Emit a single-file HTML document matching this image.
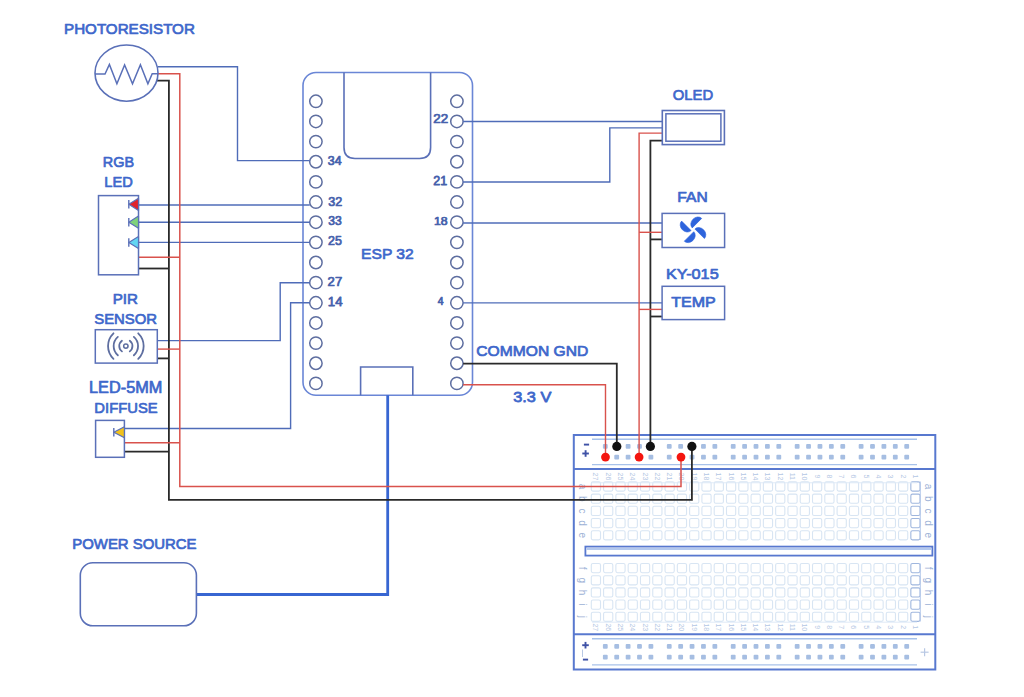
<!DOCTYPE html>
<html><head><meta charset="utf-8"><title>ESP32 wiring</title>
<style>
html,body{margin:0;padding:0;background:#fff;}
body{width:1024px;height:697px;overflow:hidden;}
svg{display:block;font-family:"Liberation Sans", sans-serif;}
</style></head>
<body>
<svg width="1024" height="697" viewBox="0 0 1024 697">
<rect x="0" y="0" width="1024" height="697" fill="#ffffff"/>
<rect x="573.8" y="435.0" width="361.5" height="234.5" fill="none" stroke="#5878cf" stroke-width="2"/>
<line x1="573.8" y1="468.9" x2="935.3" y2="468.9" stroke="#5878cf" stroke-width="2"/>
<line x1="573.8" y1="634.3" x2="935.3" y2="634.3" stroke="#5878cf" stroke-width="2"/>
<line x1="592" y1="439.2" x2="917" y2="439.2" stroke="#a8c2ea" stroke-width="1.4"/>
<line x1="592" y1="464.6" x2="917" y2="464.6" stroke="#a8c2ea" stroke-width="1.4"/>
<line x1="592" y1="638.8" x2="917" y2="638.8" stroke="#a8c2ea" stroke-width="1.4"/>
<line x1="592" y1="664.9" x2="917" y2="664.9" stroke="#a8c2ea" stroke-width="1.4"/>
<rect x="585.4" y="546.6" width="347" height="9" fill="#fff" stroke="#5878cf" stroke-width="1.8"/>
<line x1="586.5" y1="549" x2="931.4" y2="549" stroke="#b3c8ee" stroke-width="2"/>
<rect x="602.90" y="444.00" width="4.8" height="4.8" rx="1" fill="#a6bee2"/>
<rect x="614.30" y="444.00" width="4.8" height="4.8" rx="1" fill="#a6bee2"/>
<rect x="625.70" y="444.00" width="4.8" height="4.8" rx="1" fill="#a6bee2"/>
<rect x="637.10" y="444.00" width="4.8" height="4.8" rx="1" fill="#a6bee2"/>
<rect x="648.50" y="444.00" width="4.8" height="4.8" rx="1" fill="#a6bee2"/>
<rect x="666.85" y="444.00" width="4.8" height="4.8" rx="1" fill="#a6bee2"/>
<rect x="678.25" y="444.00" width="4.8" height="4.8" rx="1" fill="#a6bee2"/>
<rect x="689.65" y="444.00" width="4.8" height="4.8" rx="1" fill="#a6bee2"/>
<rect x="701.05" y="444.00" width="4.8" height="4.8" rx="1" fill="#a6bee2"/>
<rect x="712.45" y="444.00" width="4.8" height="4.8" rx="1" fill="#a6bee2"/>
<rect x="730.80" y="444.00" width="4.8" height="4.8" rx="1" fill="#a6bee2"/>
<rect x="742.20" y="444.00" width="4.8" height="4.8" rx="1" fill="#a6bee2"/>
<rect x="753.60" y="444.00" width="4.8" height="4.8" rx="1" fill="#a6bee2"/>
<rect x="765.00" y="444.00" width="4.8" height="4.8" rx="1" fill="#a6bee2"/>
<rect x="776.40" y="444.00" width="4.8" height="4.8" rx="1" fill="#a6bee2"/>
<rect x="794.75" y="444.00" width="4.8" height="4.8" rx="1" fill="#a6bee2"/>
<rect x="806.15" y="444.00" width="4.8" height="4.8" rx="1" fill="#a6bee2"/>
<rect x="817.55" y="444.00" width="4.8" height="4.8" rx="1" fill="#a6bee2"/>
<rect x="828.95" y="444.00" width="4.8" height="4.8" rx="1" fill="#a6bee2"/>
<rect x="840.35" y="444.00" width="4.8" height="4.8" rx="1" fill="#a6bee2"/>
<rect x="858.70" y="444.00" width="4.8" height="4.8" rx="1" fill="#a6bee2"/>
<rect x="870.10" y="444.00" width="4.8" height="4.8" rx="1" fill="#a6bee2"/>
<rect x="881.50" y="444.00" width="4.8" height="4.8" rx="1" fill="#a6bee2"/>
<rect x="892.90" y="444.00" width="4.8" height="4.8" rx="1" fill="#a6bee2"/>
<rect x="904.30" y="444.00" width="4.8" height="4.8" rx="1" fill="#a6bee2"/>
<rect x="602.90" y="454.70" width="4.8" height="4.8" rx="1" fill="#a6bee2"/>
<rect x="614.30" y="454.70" width="4.8" height="4.8" rx="1" fill="#a6bee2"/>
<rect x="625.70" y="454.70" width="4.8" height="4.8" rx="1" fill="#a6bee2"/>
<rect x="637.10" y="454.70" width="4.8" height="4.8" rx="1" fill="#a6bee2"/>
<rect x="648.50" y="454.70" width="4.8" height="4.8" rx="1" fill="#a6bee2"/>
<rect x="666.85" y="454.70" width="4.8" height="4.8" rx="1" fill="#a6bee2"/>
<rect x="678.25" y="454.70" width="4.8" height="4.8" rx="1" fill="#a6bee2"/>
<rect x="689.65" y="454.70" width="4.8" height="4.8" rx="1" fill="#a6bee2"/>
<rect x="701.05" y="454.70" width="4.8" height="4.8" rx="1" fill="#a6bee2"/>
<rect x="712.45" y="454.70" width="4.8" height="4.8" rx="1" fill="#a6bee2"/>
<rect x="730.80" y="454.70" width="4.8" height="4.8" rx="1" fill="#a6bee2"/>
<rect x="742.20" y="454.70" width="4.8" height="4.8" rx="1" fill="#a6bee2"/>
<rect x="753.60" y="454.70" width="4.8" height="4.8" rx="1" fill="#a6bee2"/>
<rect x="765.00" y="454.70" width="4.8" height="4.8" rx="1" fill="#a6bee2"/>
<rect x="776.40" y="454.70" width="4.8" height="4.8" rx="1" fill="#a6bee2"/>
<rect x="794.75" y="454.70" width="4.8" height="4.8" rx="1" fill="#a6bee2"/>
<rect x="806.15" y="454.70" width="4.8" height="4.8" rx="1" fill="#a6bee2"/>
<rect x="817.55" y="454.70" width="4.8" height="4.8" rx="1" fill="#a6bee2"/>
<rect x="828.95" y="454.70" width="4.8" height="4.8" rx="1" fill="#a6bee2"/>
<rect x="840.35" y="454.70" width="4.8" height="4.8" rx="1" fill="#a6bee2"/>
<rect x="858.70" y="454.70" width="4.8" height="4.8" rx="1" fill="#a6bee2"/>
<rect x="870.10" y="454.70" width="4.8" height="4.8" rx="1" fill="#a6bee2"/>
<rect x="881.50" y="454.70" width="4.8" height="4.8" rx="1" fill="#a6bee2"/>
<rect x="892.90" y="454.70" width="4.8" height="4.8" rx="1" fill="#a6bee2"/>
<rect x="904.30" y="454.70" width="4.8" height="4.8" rx="1" fill="#a6bee2"/>
<rect x="602.90" y="644.00" width="4.8" height="4.8" rx="1" fill="#a6bee2"/>
<rect x="614.30" y="644.00" width="4.8" height="4.8" rx="1" fill="#a6bee2"/>
<rect x="625.70" y="644.00" width="4.8" height="4.8" rx="1" fill="#a6bee2"/>
<rect x="637.10" y="644.00" width="4.8" height="4.8" rx="1" fill="#a6bee2"/>
<rect x="648.50" y="644.00" width="4.8" height="4.8" rx="1" fill="#a6bee2"/>
<rect x="666.85" y="644.00" width="4.8" height="4.8" rx="1" fill="#a6bee2"/>
<rect x="678.25" y="644.00" width="4.8" height="4.8" rx="1" fill="#a6bee2"/>
<rect x="689.65" y="644.00" width="4.8" height="4.8" rx="1" fill="#a6bee2"/>
<rect x="701.05" y="644.00" width="4.8" height="4.8" rx="1" fill="#a6bee2"/>
<rect x="712.45" y="644.00" width="4.8" height="4.8" rx="1" fill="#a6bee2"/>
<rect x="730.80" y="644.00" width="4.8" height="4.8" rx="1" fill="#a6bee2"/>
<rect x="742.20" y="644.00" width="4.8" height="4.8" rx="1" fill="#a6bee2"/>
<rect x="753.60" y="644.00" width="4.8" height="4.8" rx="1" fill="#a6bee2"/>
<rect x="765.00" y="644.00" width="4.8" height="4.8" rx="1" fill="#a6bee2"/>
<rect x="776.40" y="644.00" width="4.8" height="4.8" rx="1" fill="#a6bee2"/>
<rect x="794.75" y="644.00" width="4.8" height="4.8" rx="1" fill="#a6bee2"/>
<rect x="806.15" y="644.00" width="4.8" height="4.8" rx="1" fill="#a6bee2"/>
<rect x="817.55" y="644.00" width="4.8" height="4.8" rx="1" fill="#a6bee2"/>
<rect x="828.95" y="644.00" width="4.8" height="4.8" rx="1" fill="#a6bee2"/>
<rect x="840.35" y="644.00" width="4.8" height="4.8" rx="1" fill="#a6bee2"/>
<rect x="858.70" y="644.00" width="4.8" height="4.8" rx="1" fill="#a6bee2"/>
<rect x="870.10" y="644.00" width="4.8" height="4.8" rx="1" fill="#a6bee2"/>
<rect x="881.50" y="644.00" width="4.8" height="4.8" rx="1" fill="#a6bee2"/>
<rect x="892.90" y="644.00" width="4.8" height="4.8" rx="1" fill="#a6bee2"/>
<rect x="904.30" y="644.00" width="4.8" height="4.8" rx="1" fill="#a6bee2"/>
<rect x="602.90" y="654.70" width="4.8" height="4.8" rx="1" fill="#a6bee2"/>
<rect x="614.30" y="654.70" width="4.8" height="4.8" rx="1" fill="#a6bee2"/>
<rect x="625.70" y="654.70" width="4.8" height="4.8" rx="1" fill="#a6bee2"/>
<rect x="637.10" y="654.70" width="4.8" height="4.8" rx="1" fill="#a6bee2"/>
<rect x="648.50" y="654.70" width="4.8" height="4.8" rx="1" fill="#a6bee2"/>
<rect x="666.85" y="654.70" width="4.8" height="4.8" rx="1" fill="#a6bee2"/>
<rect x="678.25" y="654.70" width="4.8" height="4.8" rx="1" fill="#a6bee2"/>
<rect x="689.65" y="654.70" width="4.8" height="4.8" rx="1" fill="#a6bee2"/>
<rect x="701.05" y="654.70" width="4.8" height="4.8" rx="1" fill="#a6bee2"/>
<rect x="712.45" y="654.70" width="4.8" height="4.8" rx="1" fill="#a6bee2"/>
<rect x="730.80" y="654.70" width="4.8" height="4.8" rx="1" fill="#a6bee2"/>
<rect x="742.20" y="654.70" width="4.8" height="4.8" rx="1" fill="#a6bee2"/>
<rect x="753.60" y="654.70" width="4.8" height="4.8" rx="1" fill="#a6bee2"/>
<rect x="765.00" y="654.70" width="4.8" height="4.8" rx="1" fill="#a6bee2"/>
<rect x="776.40" y="654.70" width="4.8" height="4.8" rx="1" fill="#a6bee2"/>
<rect x="794.75" y="654.70" width="4.8" height="4.8" rx="1" fill="#a6bee2"/>
<rect x="806.15" y="654.70" width="4.8" height="4.8" rx="1" fill="#a6bee2"/>
<rect x="817.55" y="654.70" width="4.8" height="4.8" rx="1" fill="#a6bee2"/>
<rect x="828.95" y="654.70" width="4.8" height="4.8" rx="1" fill="#a6bee2"/>
<rect x="840.35" y="654.70" width="4.8" height="4.8" rx="1" fill="#a6bee2"/>
<rect x="858.70" y="654.70" width="4.8" height="4.8" rx="1" fill="#a6bee2"/>
<rect x="870.10" y="654.70" width="4.8" height="4.8" rx="1" fill="#a6bee2"/>
<rect x="881.50" y="654.70" width="4.8" height="4.8" rx="1" fill="#a6bee2"/>
<rect x="892.90" y="654.70" width="4.8" height="4.8" rx="1" fill="#a6bee2"/>
<rect x="904.30" y="654.70" width="4.8" height="4.8" rx="1" fill="#a6bee2"/>
<rect x="591.30" y="481.90" width="9.2" height="9.2" rx="1.6" fill="none" stroke="#d8e5f3" stroke-width="1.1"/>
<rect x="603.59" y="481.90" width="9.2" height="9.2" rx="1.6" fill="none" stroke="#d8e5f3" stroke-width="1.1"/>
<rect x="615.88" y="481.90" width="9.2" height="9.2" rx="1.6" fill="none" stroke="#d8e5f3" stroke-width="1.1"/>
<rect x="628.17" y="481.90" width="9.2" height="9.2" rx="1.6" fill="none" stroke="#d8e5f3" stroke-width="1.1"/>
<rect x="640.46" y="481.90" width="9.2" height="9.2" rx="1.6" fill="none" stroke="#d8e5f3" stroke-width="1.1"/>
<rect x="652.75" y="481.90" width="9.2" height="9.2" rx="1.6" fill="none" stroke="#d8e5f3" stroke-width="1.1"/>
<rect x="665.04" y="481.90" width="9.2" height="9.2" rx="1.6" fill="none" stroke="#d8e5f3" stroke-width="1.1"/>
<rect x="677.33" y="481.90" width="9.2" height="9.2" rx="1.6" fill="none" stroke="#d8e5f3" stroke-width="1.1"/>
<rect x="689.62" y="481.90" width="9.2" height="9.2" rx="1.6" fill="none" stroke="#d8e5f3" stroke-width="1.1"/>
<rect x="701.91" y="481.90" width="9.2" height="9.2" rx="1.6" fill="none" stroke="#d8e5f3" stroke-width="1.1"/>
<rect x="714.20" y="481.90" width="9.2" height="9.2" rx="1.6" fill="none" stroke="#d8e5f3" stroke-width="1.1"/>
<rect x="726.49" y="481.90" width="9.2" height="9.2" rx="1.6" fill="none" stroke="#d8e5f3" stroke-width="1.1"/>
<rect x="738.78" y="481.90" width="9.2" height="9.2" rx="1.6" fill="none" stroke="#d8e5f3" stroke-width="1.1"/>
<rect x="751.07" y="481.90" width="9.2" height="9.2" rx="1.6" fill="none" stroke="#d8e5f3" stroke-width="1.1"/>
<rect x="763.36" y="481.90" width="9.2" height="9.2" rx="1.6" fill="none" stroke="#d8e5f3" stroke-width="1.1"/>
<rect x="775.65" y="481.90" width="9.2" height="9.2" rx="1.6" fill="none" stroke="#d8e5f3" stroke-width="1.1"/>
<rect x="787.94" y="481.90" width="9.2" height="9.2" rx="1.6" fill="none" stroke="#d8e5f3" stroke-width="1.1"/>
<rect x="800.23" y="481.90" width="9.2" height="9.2" rx="1.6" fill="none" stroke="#d8e5f3" stroke-width="1.1"/>
<rect x="812.52" y="481.90" width="9.2" height="9.2" rx="1.6" fill="none" stroke="#d8e5f3" stroke-width="1.1"/>
<rect x="824.81" y="481.90" width="9.2" height="9.2" rx="1.6" fill="none" stroke="#d8e5f3" stroke-width="1.1"/>
<rect x="837.10" y="481.90" width="9.2" height="9.2" rx="1.6" fill="none" stroke="#d8e5f3" stroke-width="1.1"/>
<rect x="849.39" y="481.90" width="9.2" height="9.2" rx="1.6" fill="none" stroke="#d8e5f3" stroke-width="1.1"/>
<rect x="861.68" y="481.90" width="9.2" height="9.2" rx="1.6" fill="none" stroke="#d8e5f3" stroke-width="1.1"/>
<rect x="873.97" y="481.90" width="9.2" height="9.2" rx="1.6" fill="none" stroke="#d8e5f3" stroke-width="1.1"/>
<rect x="886.26" y="481.90" width="9.2" height="9.2" rx="1.6" fill="none" stroke="#d8e5f3" stroke-width="1.1"/>
<rect x="898.55" y="481.90" width="9.2" height="9.2" rx="1.6" fill="none" stroke="#d8e5f3" stroke-width="1.1"/>
<rect x="910.84" y="481.90" width="9.2" height="9.2" rx="1.6" fill="none" stroke="#9fb6de" stroke-width="1.1"/>
<rect x="591.30" y="494.10" width="9.2" height="9.2" rx="1.6" fill="none" stroke="#d8e5f3" stroke-width="1.1"/>
<rect x="603.59" y="494.10" width="9.2" height="9.2" rx="1.6" fill="none" stroke="#d8e5f3" stroke-width="1.1"/>
<rect x="615.88" y="494.10" width="9.2" height="9.2" rx="1.6" fill="none" stroke="#d8e5f3" stroke-width="1.1"/>
<rect x="628.17" y="494.10" width="9.2" height="9.2" rx="1.6" fill="none" stroke="#d8e5f3" stroke-width="1.1"/>
<rect x="640.46" y="494.10" width="9.2" height="9.2" rx="1.6" fill="none" stroke="#d8e5f3" stroke-width="1.1"/>
<rect x="652.75" y="494.10" width="9.2" height="9.2" rx="1.6" fill="none" stroke="#d8e5f3" stroke-width="1.1"/>
<rect x="665.04" y="494.10" width="9.2" height="9.2" rx="1.6" fill="none" stroke="#d8e5f3" stroke-width="1.1"/>
<rect x="677.33" y="494.10" width="9.2" height="9.2" rx="1.6" fill="none" stroke="#d8e5f3" stroke-width="1.1"/>
<rect x="689.62" y="494.10" width="9.2" height="9.2" rx="1.6" fill="none" stroke="#d8e5f3" stroke-width="1.1"/>
<rect x="701.91" y="494.10" width="9.2" height="9.2" rx="1.6" fill="none" stroke="#d8e5f3" stroke-width="1.1"/>
<rect x="714.20" y="494.10" width="9.2" height="9.2" rx="1.6" fill="none" stroke="#d8e5f3" stroke-width="1.1"/>
<rect x="726.49" y="494.10" width="9.2" height="9.2" rx="1.6" fill="none" stroke="#d8e5f3" stroke-width="1.1"/>
<rect x="738.78" y="494.10" width="9.2" height="9.2" rx="1.6" fill="none" stroke="#d8e5f3" stroke-width="1.1"/>
<rect x="751.07" y="494.10" width="9.2" height="9.2" rx="1.6" fill="none" stroke="#d8e5f3" stroke-width="1.1"/>
<rect x="763.36" y="494.10" width="9.2" height="9.2" rx="1.6" fill="none" stroke="#d8e5f3" stroke-width="1.1"/>
<rect x="775.65" y="494.10" width="9.2" height="9.2" rx="1.6" fill="none" stroke="#d8e5f3" stroke-width="1.1"/>
<rect x="787.94" y="494.10" width="9.2" height="9.2" rx="1.6" fill="none" stroke="#d8e5f3" stroke-width="1.1"/>
<rect x="800.23" y="494.10" width="9.2" height="9.2" rx="1.6" fill="none" stroke="#d8e5f3" stroke-width="1.1"/>
<rect x="812.52" y="494.10" width="9.2" height="9.2" rx="1.6" fill="none" stroke="#d8e5f3" stroke-width="1.1"/>
<rect x="824.81" y="494.10" width="9.2" height="9.2" rx="1.6" fill="none" stroke="#d8e5f3" stroke-width="1.1"/>
<rect x="837.10" y="494.10" width="9.2" height="9.2" rx="1.6" fill="none" stroke="#d8e5f3" stroke-width="1.1"/>
<rect x="849.39" y="494.10" width="9.2" height="9.2" rx="1.6" fill="none" stroke="#d8e5f3" stroke-width="1.1"/>
<rect x="861.68" y="494.10" width="9.2" height="9.2" rx="1.6" fill="none" stroke="#d8e5f3" stroke-width="1.1"/>
<rect x="873.97" y="494.10" width="9.2" height="9.2" rx="1.6" fill="none" stroke="#d8e5f3" stroke-width="1.1"/>
<rect x="886.26" y="494.10" width="9.2" height="9.2" rx="1.6" fill="none" stroke="#d8e5f3" stroke-width="1.1"/>
<rect x="898.55" y="494.10" width="9.2" height="9.2" rx="1.6" fill="none" stroke="#d8e5f3" stroke-width="1.1"/>
<rect x="910.84" y="494.10" width="9.2" height="9.2" rx="1.6" fill="none" stroke="#9fb6de" stroke-width="1.1"/>
<rect x="591.30" y="506.30" width="9.2" height="9.2" rx="1.6" fill="none" stroke="#d8e5f3" stroke-width="1.1"/>
<rect x="603.59" y="506.30" width="9.2" height="9.2" rx="1.6" fill="none" stroke="#d8e5f3" stroke-width="1.1"/>
<rect x="615.88" y="506.30" width="9.2" height="9.2" rx="1.6" fill="none" stroke="#d8e5f3" stroke-width="1.1"/>
<rect x="628.17" y="506.30" width="9.2" height="9.2" rx="1.6" fill="none" stroke="#d8e5f3" stroke-width="1.1"/>
<rect x="640.46" y="506.30" width="9.2" height="9.2" rx="1.6" fill="none" stroke="#d8e5f3" stroke-width="1.1"/>
<rect x="652.75" y="506.30" width="9.2" height="9.2" rx="1.6" fill="none" stroke="#d8e5f3" stroke-width="1.1"/>
<rect x="665.04" y="506.30" width="9.2" height="9.2" rx="1.6" fill="none" stroke="#d8e5f3" stroke-width="1.1"/>
<rect x="677.33" y="506.30" width="9.2" height="9.2" rx="1.6" fill="none" stroke="#d8e5f3" stroke-width="1.1"/>
<rect x="689.62" y="506.30" width="9.2" height="9.2" rx="1.6" fill="none" stroke="#d8e5f3" stroke-width="1.1"/>
<rect x="701.91" y="506.30" width="9.2" height="9.2" rx="1.6" fill="none" stroke="#d8e5f3" stroke-width="1.1"/>
<rect x="714.20" y="506.30" width="9.2" height="9.2" rx="1.6" fill="none" stroke="#d8e5f3" stroke-width="1.1"/>
<rect x="726.49" y="506.30" width="9.2" height="9.2" rx="1.6" fill="none" stroke="#d8e5f3" stroke-width="1.1"/>
<rect x="738.78" y="506.30" width="9.2" height="9.2" rx="1.6" fill="none" stroke="#d8e5f3" stroke-width="1.1"/>
<rect x="751.07" y="506.30" width="9.2" height="9.2" rx="1.6" fill="none" stroke="#d8e5f3" stroke-width="1.1"/>
<rect x="763.36" y="506.30" width="9.2" height="9.2" rx="1.6" fill="none" stroke="#d8e5f3" stroke-width="1.1"/>
<rect x="775.65" y="506.30" width="9.2" height="9.2" rx="1.6" fill="none" stroke="#d8e5f3" stroke-width="1.1"/>
<rect x="787.94" y="506.30" width="9.2" height="9.2" rx="1.6" fill="none" stroke="#d8e5f3" stroke-width="1.1"/>
<rect x="800.23" y="506.30" width="9.2" height="9.2" rx="1.6" fill="none" stroke="#d8e5f3" stroke-width="1.1"/>
<rect x="812.52" y="506.30" width="9.2" height="9.2" rx="1.6" fill="none" stroke="#d8e5f3" stroke-width="1.1"/>
<rect x="824.81" y="506.30" width="9.2" height="9.2" rx="1.6" fill="none" stroke="#d8e5f3" stroke-width="1.1"/>
<rect x="837.10" y="506.30" width="9.2" height="9.2" rx="1.6" fill="none" stroke="#d8e5f3" stroke-width="1.1"/>
<rect x="849.39" y="506.30" width="9.2" height="9.2" rx="1.6" fill="none" stroke="#d8e5f3" stroke-width="1.1"/>
<rect x="861.68" y="506.30" width="9.2" height="9.2" rx="1.6" fill="none" stroke="#d8e5f3" stroke-width="1.1"/>
<rect x="873.97" y="506.30" width="9.2" height="9.2" rx="1.6" fill="none" stroke="#d8e5f3" stroke-width="1.1"/>
<rect x="886.26" y="506.30" width="9.2" height="9.2" rx="1.6" fill="none" stroke="#d8e5f3" stroke-width="1.1"/>
<rect x="898.55" y="506.30" width="9.2" height="9.2" rx="1.6" fill="none" stroke="#d8e5f3" stroke-width="1.1"/>
<rect x="910.84" y="506.30" width="9.2" height="9.2" rx="1.6" fill="none" stroke="#9fb6de" stroke-width="1.1"/>
<rect x="591.30" y="518.50" width="9.2" height="9.2" rx="1.6" fill="none" stroke="#d8e5f3" stroke-width="1.1"/>
<rect x="603.59" y="518.50" width="9.2" height="9.2" rx="1.6" fill="none" stroke="#d8e5f3" stroke-width="1.1"/>
<rect x="615.88" y="518.50" width="9.2" height="9.2" rx="1.6" fill="none" stroke="#d8e5f3" stroke-width="1.1"/>
<rect x="628.17" y="518.50" width="9.2" height="9.2" rx="1.6" fill="none" stroke="#d8e5f3" stroke-width="1.1"/>
<rect x="640.46" y="518.50" width="9.2" height="9.2" rx="1.6" fill="none" stroke="#d8e5f3" stroke-width="1.1"/>
<rect x="652.75" y="518.50" width="9.2" height="9.2" rx="1.6" fill="none" stroke="#d8e5f3" stroke-width="1.1"/>
<rect x="665.04" y="518.50" width="9.2" height="9.2" rx="1.6" fill="none" stroke="#d8e5f3" stroke-width="1.1"/>
<rect x="677.33" y="518.50" width="9.2" height="9.2" rx="1.6" fill="none" stroke="#d8e5f3" stroke-width="1.1"/>
<rect x="689.62" y="518.50" width="9.2" height="9.2" rx="1.6" fill="none" stroke="#d8e5f3" stroke-width="1.1"/>
<rect x="701.91" y="518.50" width="9.2" height="9.2" rx="1.6" fill="none" stroke="#d8e5f3" stroke-width="1.1"/>
<rect x="714.20" y="518.50" width="9.2" height="9.2" rx="1.6" fill="none" stroke="#d8e5f3" stroke-width="1.1"/>
<rect x="726.49" y="518.50" width="9.2" height="9.2" rx="1.6" fill="none" stroke="#d8e5f3" stroke-width="1.1"/>
<rect x="738.78" y="518.50" width="9.2" height="9.2" rx="1.6" fill="none" stroke="#d8e5f3" stroke-width="1.1"/>
<rect x="751.07" y="518.50" width="9.2" height="9.2" rx="1.6" fill="none" stroke="#d8e5f3" stroke-width="1.1"/>
<rect x="763.36" y="518.50" width="9.2" height="9.2" rx="1.6" fill="none" stroke="#d8e5f3" stroke-width="1.1"/>
<rect x="775.65" y="518.50" width="9.2" height="9.2" rx="1.6" fill="none" stroke="#d8e5f3" stroke-width="1.1"/>
<rect x="787.94" y="518.50" width="9.2" height="9.2" rx="1.6" fill="none" stroke="#d8e5f3" stroke-width="1.1"/>
<rect x="800.23" y="518.50" width="9.2" height="9.2" rx="1.6" fill="none" stroke="#d8e5f3" stroke-width="1.1"/>
<rect x="812.52" y="518.50" width="9.2" height="9.2" rx="1.6" fill="none" stroke="#d8e5f3" stroke-width="1.1"/>
<rect x="824.81" y="518.50" width="9.2" height="9.2" rx="1.6" fill="none" stroke="#d8e5f3" stroke-width="1.1"/>
<rect x="837.10" y="518.50" width="9.2" height="9.2" rx="1.6" fill="none" stroke="#d8e5f3" stroke-width="1.1"/>
<rect x="849.39" y="518.50" width="9.2" height="9.2" rx="1.6" fill="none" stroke="#d8e5f3" stroke-width="1.1"/>
<rect x="861.68" y="518.50" width="9.2" height="9.2" rx="1.6" fill="none" stroke="#d8e5f3" stroke-width="1.1"/>
<rect x="873.97" y="518.50" width="9.2" height="9.2" rx="1.6" fill="none" stroke="#d8e5f3" stroke-width="1.1"/>
<rect x="886.26" y="518.50" width="9.2" height="9.2" rx="1.6" fill="none" stroke="#d8e5f3" stroke-width="1.1"/>
<rect x="898.55" y="518.50" width="9.2" height="9.2" rx="1.6" fill="none" stroke="#d8e5f3" stroke-width="1.1"/>
<rect x="910.84" y="518.50" width="9.2" height="9.2" rx="1.6" fill="none" stroke="#9fb6de" stroke-width="1.1"/>
<rect x="591.30" y="530.70" width="9.2" height="9.2" rx="1.6" fill="none" stroke="#d8e5f3" stroke-width="1.1"/>
<rect x="603.59" y="530.70" width="9.2" height="9.2" rx="1.6" fill="none" stroke="#d8e5f3" stroke-width="1.1"/>
<rect x="615.88" y="530.70" width="9.2" height="9.2" rx="1.6" fill="none" stroke="#d8e5f3" stroke-width="1.1"/>
<rect x="628.17" y="530.70" width="9.2" height="9.2" rx="1.6" fill="none" stroke="#d8e5f3" stroke-width="1.1"/>
<rect x="640.46" y="530.70" width="9.2" height="9.2" rx="1.6" fill="none" stroke="#d8e5f3" stroke-width="1.1"/>
<rect x="652.75" y="530.70" width="9.2" height="9.2" rx="1.6" fill="none" stroke="#d8e5f3" stroke-width="1.1"/>
<rect x="665.04" y="530.70" width="9.2" height="9.2" rx="1.6" fill="none" stroke="#d8e5f3" stroke-width="1.1"/>
<rect x="677.33" y="530.70" width="9.2" height="9.2" rx="1.6" fill="none" stroke="#d8e5f3" stroke-width="1.1"/>
<rect x="689.62" y="530.70" width="9.2" height="9.2" rx="1.6" fill="none" stroke="#d8e5f3" stroke-width="1.1"/>
<rect x="701.91" y="530.70" width="9.2" height="9.2" rx="1.6" fill="none" stroke="#d8e5f3" stroke-width="1.1"/>
<rect x="714.20" y="530.70" width="9.2" height="9.2" rx="1.6" fill="none" stroke="#d8e5f3" stroke-width="1.1"/>
<rect x="726.49" y="530.70" width="9.2" height="9.2" rx="1.6" fill="none" stroke="#d8e5f3" stroke-width="1.1"/>
<rect x="738.78" y="530.70" width="9.2" height="9.2" rx="1.6" fill="none" stroke="#d8e5f3" stroke-width="1.1"/>
<rect x="751.07" y="530.70" width="9.2" height="9.2" rx="1.6" fill="none" stroke="#d8e5f3" stroke-width="1.1"/>
<rect x="763.36" y="530.70" width="9.2" height="9.2" rx="1.6" fill="none" stroke="#d8e5f3" stroke-width="1.1"/>
<rect x="775.65" y="530.70" width="9.2" height="9.2" rx="1.6" fill="none" stroke="#d8e5f3" stroke-width="1.1"/>
<rect x="787.94" y="530.70" width="9.2" height="9.2" rx="1.6" fill="none" stroke="#d8e5f3" stroke-width="1.1"/>
<rect x="800.23" y="530.70" width="9.2" height="9.2" rx="1.6" fill="none" stroke="#d8e5f3" stroke-width="1.1"/>
<rect x="812.52" y="530.70" width="9.2" height="9.2" rx="1.6" fill="none" stroke="#d8e5f3" stroke-width="1.1"/>
<rect x="824.81" y="530.70" width="9.2" height="9.2" rx="1.6" fill="none" stroke="#d8e5f3" stroke-width="1.1"/>
<rect x="837.10" y="530.70" width="9.2" height="9.2" rx="1.6" fill="none" stroke="#d8e5f3" stroke-width="1.1"/>
<rect x="849.39" y="530.70" width="9.2" height="9.2" rx="1.6" fill="none" stroke="#d8e5f3" stroke-width="1.1"/>
<rect x="861.68" y="530.70" width="9.2" height="9.2" rx="1.6" fill="none" stroke="#d8e5f3" stroke-width="1.1"/>
<rect x="873.97" y="530.70" width="9.2" height="9.2" rx="1.6" fill="none" stroke="#d8e5f3" stroke-width="1.1"/>
<rect x="886.26" y="530.70" width="9.2" height="9.2" rx="1.6" fill="none" stroke="#d8e5f3" stroke-width="1.1"/>
<rect x="898.55" y="530.70" width="9.2" height="9.2" rx="1.6" fill="none" stroke="#d8e5f3" stroke-width="1.1"/>
<rect x="910.84" y="530.70" width="9.2" height="9.2" rx="1.6" fill="none" stroke="#9fb6de" stroke-width="1.1"/>
<rect x="591.30" y="563.50" width="9.2" height="9.2" rx="1.6" fill="none" stroke="#d8e5f3" stroke-width="1.1"/>
<rect x="603.59" y="563.50" width="9.2" height="9.2" rx="1.6" fill="none" stroke="#d8e5f3" stroke-width="1.1"/>
<rect x="615.88" y="563.50" width="9.2" height="9.2" rx="1.6" fill="none" stroke="#d8e5f3" stroke-width="1.1"/>
<rect x="628.17" y="563.50" width="9.2" height="9.2" rx="1.6" fill="none" stroke="#d8e5f3" stroke-width="1.1"/>
<rect x="640.46" y="563.50" width="9.2" height="9.2" rx="1.6" fill="none" stroke="#d8e5f3" stroke-width="1.1"/>
<rect x="652.75" y="563.50" width="9.2" height="9.2" rx="1.6" fill="none" stroke="#d8e5f3" stroke-width="1.1"/>
<rect x="665.04" y="563.50" width="9.2" height="9.2" rx="1.6" fill="none" stroke="#d8e5f3" stroke-width="1.1"/>
<rect x="677.33" y="563.50" width="9.2" height="9.2" rx="1.6" fill="none" stroke="#d8e5f3" stroke-width="1.1"/>
<rect x="689.62" y="563.50" width="9.2" height="9.2" rx="1.6" fill="none" stroke="#d8e5f3" stroke-width="1.1"/>
<rect x="701.91" y="563.50" width="9.2" height="9.2" rx="1.6" fill="none" stroke="#d8e5f3" stroke-width="1.1"/>
<rect x="714.20" y="563.50" width="9.2" height="9.2" rx="1.6" fill="none" stroke="#d8e5f3" stroke-width="1.1"/>
<rect x="726.49" y="563.50" width="9.2" height="9.2" rx="1.6" fill="none" stroke="#d8e5f3" stroke-width="1.1"/>
<rect x="738.78" y="563.50" width="9.2" height="9.2" rx="1.6" fill="none" stroke="#d8e5f3" stroke-width="1.1"/>
<rect x="751.07" y="563.50" width="9.2" height="9.2" rx="1.6" fill="none" stroke="#d8e5f3" stroke-width="1.1"/>
<rect x="763.36" y="563.50" width="9.2" height="9.2" rx="1.6" fill="none" stroke="#d8e5f3" stroke-width="1.1"/>
<rect x="775.65" y="563.50" width="9.2" height="9.2" rx="1.6" fill="none" stroke="#d8e5f3" stroke-width="1.1"/>
<rect x="787.94" y="563.50" width="9.2" height="9.2" rx="1.6" fill="none" stroke="#d8e5f3" stroke-width="1.1"/>
<rect x="800.23" y="563.50" width="9.2" height="9.2" rx="1.6" fill="none" stroke="#d8e5f3" stroke-width="1.1"/>
<rect x="812.52" y="563.50" width="9.2" height="9.2" rx="1.6" fill="none" stroke="#d8e5f3" stroke-width="1.1"/>
<rect x="824.81" y="563.50" width="9.2" height="9.2" rx="1.6" fill="none" stroke="#d8e5f3" stroke-width="1.1"/>
<rect x="837.10" y="563.50" width="9.2" height="9.2" rx="1.6" fill="none" stroke="#d8e5f3" stroke-width="1.1"/>
<rect x="849.39" y="563.50" width="9.2" height="9.2" rx="1.6" fill="none" stroke="#d8e5f3" stroke-width="1.1"/>
<rect x="861.68" y="563.50" width="9.2" height="9.2" rx="1.6" fill="none" stroke="#d8e5f3" stroke-width="1.1"/>
<rect x="873.97" y="563.50" width="9.2" height="9.2" rx="1.6" fill="none" stroke="#d8e5f3" stroke-width="1.1"/>
<rect x="886.26" y="563.50" width="9.2" height="9.2" rx="1.6" fill="none" stroke="#d8e5f3" stroke-width="1.1"/>
<rect x="898.55" y="563.50" width="9.2" height="9.2" rx="1.6" fill="none" stroke="#d8e5f3" stroke-width="1.1"/>
<rect x="910.84" y="563.50" width="9.2" height="9.2" rx="1.6" fill="none" stroke="#9fb6de" stroke-width="1.1"/>
<rect x="591.30" y="575.68" width="9.2" height="9.2" rx="1.6" fill="none" stroke="#d8e5f3" stroke-width="1.1"/>
<rect x="603.59" y="575.68" width="9.2" height="9.2" rx="1.6" fill="none" stroke="#d8e5f3" stroke-width="1.1"/>
<rect x="615.88" y="575.68" width="9.2" height="9.2" rx="1.6" fill="none" stroke="#d8e5f3" stroke-width="1.1"/>
<rect x="628.17" y="575.68" width="9.2" height="9.2" rx="1.6" fill="none" stroke="#d8e5f3" stroke-width="1.1"/>
<rect x="640.46" y="575.68" width="9.2" height="9.2" rx="1.6" fill="none" stroke="#d8e5f3" stroke-width="1.1"/>
<rect x="652.75" y="575.68" width="9.2" height="9.2" rx="1.6" fill="none" stroke="#d8e5f3" stroke-width="1.1"/>
<rect x="665.04" y="575.68" width="9.2" height="9.2" rx="1.6" fill="none" stroke="#d8e5f3" stroke-width="1.1"/>
<rect x="677.33" y="575.68" width="9.2" height="9.2" rx="1.6" fill="none" stroke="#d8e5f3" stroke-width="1.1"/>
<rect x="689.62" y="575.68" width="9.2" height="9.2" rx="1.6" fill="none" stroke="#d8e5f3" stroke-width="1.1"/>
<rect x="701.91" y="575.68" width="9.2" height="9.2" rx="1.6" fill="none" stroke="#d8e5f3" stroke-width="1.1"/>
<rect x="714.20" y="575.68" width="9.2" height="9.2" rx="1.6" fill="none" stroke="#d8e5f3" stroke-width="1.1"/>
<rect x="726.49" y="575.68" width="9.2" height="9.2" rx="1.6" fill="none" stroke="#d8e5f3" stroke-width="1.1"/>
<rect x="738.78" y="575.68" width="9.2" height="9.2" rx="1.6" fill="none" stroke="#d8e5f3" stroke-width="1.1"/>
<rect x="751.07" y="575.68" width="9.2" height="9.2" rx="1.6" fill="none" stroke="#d8e5f3" stroke-width="1.1"/>
<rect x="763.36" y="575.68" width="9.2" height="9.2" rx="1.6" fill="none" stroke="#d8e5f3" stroke-width="1.1"/>
<rect x="775.65" y="575.68" width="9.2" height="9.2" rx="1.6" fill="none" stroke="#d8e5f3" stroke-width="1.1"/>
<rect x="787.94" y="575.68" width="9.2" height="9.2" rx="1.6" fill="none" stroke="#d8e5f3" stroke-width="1.1"/>
<rect x="800.23" y="575.68" width="9.2" height="9.2" rx="1.6" fill="none" stroke="#d8e5f3" stroke-width="1.1"/>
<rect x="812.52" y="575.68" width="9.2" height="9.2" rx="1.6" fill="none" stroke="#d8e5f3" stroke-width="1.1"/>
<rect x="824.81" y="575.68" width="9.2" height="9.2" rx="1.6" fill="none" stroke="#d8e5f3" stroke-width="1.1"/>
<rect x="837.10" y="575.68" width="9.2" height="9.2" rx="1.6" fill="none" stroke="#d8e5f3" stroke-width="1.1"/>
<rect x="849.39" y="575.68" width="9.2" height="9.2" rx="1.6" fill="none" stroke="#d8e5f3" stroke-width="1.1"/>
<rect x="861.68" y="575.68" width="9.2" height="9.2" rx="1.6" fill="none" stroke="#d8e5f3" stroke-width="1.1"/>
<rect x="873.97" y="575.68" width="9.2" height="9.2" rx="1.6" fill="none" stroke="#d8e5f3" stroke-width="1.1"/>
<rect x="886.26" y="575.68" width="9.2" height="9.2" rx="1.6" fill="none" stroke="#d8e5f3" stroke-width="1.1"/>
<rect x="898.55" y="575.68" width="9.2" height="9.2" rx="1.6" fill="none" stroke="#d8e5f3" stroke-width="1.1"/>
<rect x="910.84" y="575.68" width="9.2" height="9.2" rx="1.6" fill="none" stroke="#9fb6de" stroke-width="1.1"/>
<rect x="591.30" y="587.86" width="9.2" height="9.2" rx="1.6" fill="none" stroke="#d8e5f3" stroke-width="1.1"/>
<rect x="603.59" y="587.86" width="9.2" height="9.2" rx="1.6" fill="none" stroke="#d8e5f3" stroke-width="1.1"/>
<rect x="615.88" y="587.86" width="9.2" height="9.2" rx="1.6" fill="none" stroke="#d8e5f3" stroke-width="1.1"/>
<rect x="628.17" y="587.86" width="9.2" height="9.2" rx="1.6" fill="none" stroke="#d8e5f3" stroke-width="1.1"/>
<rect x="640.46" y="587.86" width="9.2" height="9.2" rx="1.6" fill="none" stroke="#d8e5f3" stroke-width="1.1"/>
<rect x="652.75" y="587.86" width="9.2" height="9.2" rx="1.6" fill="none" stroke="#d8e5f3" stroke-width="1.1"/>
<rect x="665.04" y="587.86" width="9.2" height="9.2" rx="1.6" fill="none" stroke="#d8e5f3" stroke-width="1.1"/>
<rect x="677.33" y="587.86" width="9.2" height="9.2" rx="1.6" fill="none" stroke="#d8e5f3" stroke-width="1.1"/>
<rect x="689.62" y="587.86" width="9.2" height="9.2" rx="1.6" fill="none" stroke="#d8e5f3" stroke-width="1.1"/>
<rect x="701.91" y="587.86" width="9.2" height="9.2" rx="1.6" fill="none" stroke="#d8e5f3" stroke-width="1.1"/>
<rect x="714.20" y="587.86" width="9.2" height="9.2" rx="1.6" fill="none" stroke="#d8e5f3" stroke-width="1.1"/>
<rect x="726.49" y="587.86" width="9.2" height="9.2" rx="1.6" fill="none" stroke="#d8e5f3" stroke-width="1.1"/>
<rect x="738.78" y="587.86" width="9.2" height="9.2" rx="1.6" fill="none" stroke="#d8e5f3" stroke-width="1.1"/>
<rect x="751.07" y="587.86" width="9.2" height="9.2" rx="1.6" fill="none" stroke="#d8e5f3" stroke-width="1.1"/>
<rect x="763.36" y="587.86" width="9.2" height="9.2" rx="1.6" fill="none" stroke="#d8e5f3" stroke-width="1.1"/>
<rect x="775.65" y="587.86" width="9.2" height="9.2" rx="1.6" fill="none" stroke="#d8e5f3" stroke-width="1.1"/>
<rect x="787.94" y="587.86" width="9.2" height="9.2" rx="1.6" fill="none" stroke="#d8e5f3" stroke-width="1.1"/>
<rect x="800.23" y="587.86" width="9.2" height="9.2" rx="1.6" fill="none" stroke="#d8e5f3" stroke-width="1.1"/>
<rect x="812.52" y="587.86" width="9.2" height="9.2" rx="1.6" fill="none" stroke="#d8e5f3" stroke-width="1.1"/>
<rect x="824.81" y="587.86" width="9.2" height="9.2" rx="1.6" fill="none" stroke="#d8e5f3" stroke-width="1.1"/>
<rect x="837.10" y="587.86" width="9.2" height="9.2" rx="1.6" fill="none" stroke="#d8e5f3" stroke-width="1.1"/>
<rect x="849.39" y="587.86" width="9.2" height="9.2" rx="1.6" fill="none" stroke="#d8e5f3" stroke-width="1.1"/>
<rect x="861.68" y="587.86" width="9.2" height="9.2" rx="1.6" fill="none" stroke="#d8e5f3" stroke-width="1.1"/>
<rect x="873.97" y="587.86" width="9.2" height="9.2" rx="1.6" fill="none" stroke="#d8e5f3" stroke-width="1.1"/>
<rect x="886.26" y="587.86" width="9.2" height="9.2" rx="1.6" fill="none" stroke="#d8e5f3" stroke-width="1.1"/>
<rect x="898.55" y="587.86" width="9.2" height="9.2" rx="1.6" fill="none" stroke="#d8e5f3" stroke-width="1.1"/>
<rect x="910.84" y="587.86" width="9.2" height="9.2" rx="1.6" fill="none" stroke="#9fb6de" stroke-width="1.1"/>
<rect x="591.30" y="600.04" width="9.2" height="9.2" rx="1.6" fill="none" stroke="#d8e5f3" stroke-width="1.1"/>
<rect x="603.59" y="600.04" width="9.2" height="9.2" rx="1.6" fill="none" stroke="#d8e5f3" stroke-width="1.1"/>
<rect x="615.88" y="600.04" width="9.2" height="9.2" rx="1.6" fill="none" stroke="#d8e5f3" stroke-width="1.1"/>
<rect x="628.17" y="600.04" width="9.2" height="9.2" rx="1.6" fill="none" stroke="#d8e5f3" stroke-width="1.1"/>
<rect x="640.46" y="600.04" width="9.2" height="9.2" rx="1.6" fill="none" stroke="#d8e5f3" stroke-width="1.1"/>
<rect x="652.75" y="600.04" width="9.2" height="9.2" rx="1.6" fill="none" stroke="#d8e5f3" stroke-width="1.1"/>
<rect x="665.04" y="600.04" width="9.2" height="9.2" rx="1.6" fill="none" stroke="#d8e5f3" stroke-width="1.1"/>
<rect x="677.33" y="600.04" width="9.2" height="9.2" rx="1.6" fill="none" stroke="#d8e5f3" stroke-width="1.1"/>
<rect x="689.62" y="600.04" width="9.2" height="9.2" rx="1.6" fill="none" stroke="#d8e5f3" stroke-width="1.1"/>
<rect x="701.91" y="600.04" width="9.2" height="9.2" rx="1.6" fill="none" stroke="#d8e5f3" stroke-width="1.1"/>
<rect x="714.20" y="600.04" width="9.2" height="9.2" rx="1.6" fill="none" stroke="#d8e5f3" stroke-width="1.1"/>
<rect x="726.49" y="600.04" width="9.2" height="9.2" rx="1.6" fill="none" stroke="#d8e5f3" stroke-width="1.1"/>
<rect x="738.78" y="600.04" width="9.2" height="9.2" rx="1.6" fill="none" stroke="#d8e5f3" stroke-width="1.1"/>
<rect x="751.07" y="600.04" width="9.2" height="9.2" rx="1.6" fill="none" stroke="#d8e5f3" stroke-width="1.1"/>
<rect x="763.36" y="600.04" width="9.2" height="9.2" rx="1.6" fill="none" stroke="#d8e5f3" stroke-width="1.1"/>
<rect x="775.65" y="600.04" width="9.2" height="9.2" rx="1.6" fill="none" stroke="#d8e5f3" stroke-width="1.1"/>
<rect x="787.94" y="600.04" width="9.2" height="9.2" rx="1.6" fill="none" stroke="#d8e5f3" stroke-width="1.1"/>
<rect x="800.23" y="600.04" width="9.2" height="9.2" rx="1.6" fill="none" stroke="#d8e5f3" stroke-width="1.1"/>
<rect x="812.52" y="600.04" width="9.2" height="9.2" rx="1.6" fill="none" stroke="#d8e5f3" stroke-width="1.1"/>
<rect x="824.81" y="600.04" width="9.2" height="9.2" rx="1.6" fill="none" stroke="#d8e5f3" stroke-width="1.1"/>
<rect x="837.10" y="600.04" width="9.2" height="9.2" rx="1.6" fill="none" stroke="#d8e5f3" stroke-width="1.1"/>
<rect x="849.39" y="600.04" width="9.2" height="9.2" rx="1.6" fill="none" stroke="#d8e5f3" stroke-width="1.1"/>
<rect x="861.68" y="600.04" width="9.2" height="9.2" rx="1.6" fill="none" stroke="#d8e5f3" stroke-width="1.1"/>
<rect x="873.97" y="600.04" width="9.2" height="9.2" rx="1.6" fill="none" stroke="#d8e5f3" stroke-width="1.1"/>
<rect x="886.26" y="600.04" width="9.2" height="9.2" rx="1.6" fill="none" stroke="#d8e5f3" stroke-width="1.1"/>
<rect x="898.55" y="600.04" width="9.2" height="9.2" rx="1.6" fill="none" stroke="#d8e5f3" stroke-width="1.1"/>
<rect x="910.84" y="600.04" width="9.2" height="9.2" rx="1.6" fill="none" stroke="#9fb6de" stroke-width="1.1"/>
<rect x="591.30" y="612.22" width="9.2" height="9.2" rx="1.6" fill="none" stroke="#d8e5f3" stroke-width="1.1"/>
<rect x="603.59" y="612.22" width="9.2" height="9.2" rx="1.6" fill="none" stroke="#d8e5f3" stroke-width="1.1"/>
<rect x="615.88" y="612.22" width="9.2" height="9.2" rx="1.6" fill="none" stroke="#d8e5f3" stroke-width="1.1"/>
<rect x="628.17" y="612.22" width="9.2" height="9.2" rx="1.6" fill="none" stroke="#d8e5f3" stroke-width="1.1"/>
<rect x="640.46" y="612.22" width="9.2" height="9.2" rx="1.6" fill="none" stroke="#d8e5f3" stroke-width="1.1"/>
<rect x="652.75" y="612.22" width="9.2" height="9.2" rx="1.6" fill="none" stroke="#d8e5f3" stroke-width="1.1"/>
<rect x="665.04" y="612.22" width="9.2" height="9.2" rx="1.6" fill="none" stroke="#d8e5f3" stroke-width="1.1"/>
<rect x="677.33" y="612.22" width="9.2" height="9.2" rx="1.6" fill="none" stroke="#d8e5f3" stroke-width="1.1"/>
<rect x="689.62" y="612.22" width="9.2" height="9.2" rx="1.6" fill="none" stroke="#d8e5f3" stroke-width="1.1"/>
<rect x="701.91" y="612.22" width="9.2" height="9.2" rx="1.6" fill="none" stroke="#d8e5f3" stroke-width="1.1"/>
<rect x="714.20" y="612.22" width="9.2" height="9.2" rx="1.6" fill="none" stroke="#d8e5f3" stroke-width="1.1"/>
<rect x="726.49" y="612.22" width="9.2" height="9.2" rx="1.6" fill="none" stroke="#d8e5f3" stroke-width="1.1"/>
<rect x="738.78" y="612.22" width="9.2" height="9.2" rx="1.6" fill="none" stroke="#d8e5f3" stroke-width="1.1"/>
<rect x="751.07" y="612.22" width="9.2" height="9.2" rx="1.6" fill="none" stroke="#d8e5f3" stroke-width="1.1"/>
<rect x="763.36" y="612.22" width="9.2" height="9.2" rx="1.6" fill="none" stroke="#d8e5f3" stroke-width="1.1"/>
<rect x="775.65" y="612.22" width="9.2" height="9.2" rx="1.6" fill="none" stroke="#d8e5f3" stroke-width="1.1"/>
<rect x="787.94" y="612.22" width="9.2" height="9.2" rx="1.6" fill="none" stroke="#d8e5f3" stroke-width="1.1"/>
<rect x="800.23" y="612.22" width="9.2" height="9.2" rx="1.6" fill="none" stroke="#d8e5f3" stroke-width="1.1"/>
<rect x="812.52" y="612.22" width="9.2" height="9.2" rx="1.6" fill="none" stroke="#d8e5f3" stroke-width="1.1"/>
<rect x="824.81" y="612.22" width="9.2" height="9.2" rx="1.6" fill="none" stroke="#d8e5f3" stroke-width="1.1"/>
<rect x="837.10" y="612.22" width="9.2" height="9.2" rx="1.6" fill="none" stroke="#d8e5f3" stroke-width="1.1"/>
<rect x="849.39" y="612.22" width="9.2" height="9.2" rx="1.6" fill="none" stroke="#d8e5f3" stroke-width="1.1"/>
<rect x="861.68" y="612.22" width="9.2" height="9.2" rx="1.6" fill="none" stroke="#d8e5f3" stroke-width="1.1"/>
<rect x="873.97" y="612.22" width="9.2" height="9.2" rx="1.6" fill="none" stroke="#d8e5f3" stroke-width="1.1"/>
<rect x="886.26" y="612.22" width="9.2" height="9.2" rx="1.6" fill="none" stroke="#d8e5f3" stroke-width="1.1"/>
<rect x="898.55" y="612.22" width="9.2" height="9.2" rx="1.6" fill="none" stroke="#d8e5f3" stroke-width="1.1"/>
<rect x="910.84" y="612.22" width="9.2" height="9.2" rx="1.6" fill="none" stroke="#9fb6de" stroke-width="1.1"/>
<line x1="920.3" y1="481.5" x2="920.3" y2="540" stroke="#b5c9ea" stroke-width="1"/>
<line x1="920.3" y1="563.5" x2="920.3" y2="621.5" stroke="#b5c9ea" stroke-width="1"/>
<text x="595.90" y="476.4" transform="rotate(90 595.90 476.4)" font-size="7" fill="#b4c7e4" text-anchor="middle" dominant-baseline="central">27</text>
<text x="608.19" y="476.4" transform="rotate(90 608.19 476.4)" font-size="7" fill="#b4c7e4" text-anchor="middle" dominant-baseline="central">26</text>
<text x="620.48" y="476.4" transform="rotate(90 620.48 476.4)" font-size="7" fill="#b4c7e4" text-anchor="middle" dominant-baseline="central">25</text>
<text x="632.77" y="476.4" transform="rotate(90 632.77 476.4)" font-size="7" fill="#b4c7e4" text-anchor="middle" dominant-baseline="central">24</text>
<text x="645.06" y="476.4" transform="rotate(90 645.06 476.4)" font-size="7" fill="#b4c7e4" text-anchor="middle" dominant-baseline="central">23</text>
<text x="657.35" y="476.4" transform="rotate(90 657.35 476.4)" font-size="7" fill="#b4c7e4" text-anchor="middle" dominant-baseline="central">22</text>
<text x="669.64" y="476.4" transform="rotate(90 669.64 476.4)" font-size="7" fill="#b4c7e4" text-anchor="middle" dominant-baseline="central">21</text>
<text x="681.93" y="476.4" transform="rotate(90 681.93 476.4)" font-size="7" fill="#b4c7e4" text-anchor="middle" dominant-baseline="central">20</text>
<text x="694.22" y="476.4" transform="rotate(90 694.22 476.4)" font-size="7" fill="#b4c7e4" text-anchor="middle" dominant-baseline="central">19</text>
<text x="706.51" y="476.4" transform="rotate(90 706.51 476.4)" font-size="7" fill="#b4c7e4" text-anchor="middle" dominant-baseline="central">18</text>
<text x="718.80" y="476.4" transform="rotate(90 718.80 476.4)" font-size="7" fill="#b4c7e4" text-anchor="middle" dominant-baseline="central">17</text>
<text x="731.09" y="476.4" transform="rotate(90 731.09 476.4)" font-size="7" fill="#b4c7e4" text-anchor="middle" dominant-baseline="central">16</text>
<text x="743.38" y="476.4" transform="rotate(90 743.38 476.4)" font-size="7" fill="#b4c7e4" text-anchor="middle" dominant-baseline="central">15</text>
<text x="755.67" y="476.4" transform="rotate(90 755.67 476.4)" font-size="7" fill="#b4c7e4" text-anchor="middle" dominant-baseline="central">14</text>
<text x="767.96" y="476.4" transform="rotate(90 767.96 476.4)" font-size="7" fill="#b4c7e4" text-anchor="middle" dominant-baseline="central">13</text>
<text x="780.25" y="476.4" transform="rotate(90 780.25 476.4)" font-size="7" fill="#b4c7e4" text-anchor="middle" dominant-baseline="central">12</text>
<text x="792.54" y="476.4" transform="rotate(90 792.54 476.4)" font-size="7" fill="#b4c7e4" text-anchor="middle" dominant-baseline="central">11</text>
<text x="804.83" y="476.4" transform="rotate(90 804.83 476.4)" font-size="7" fill="#b4c7e4" text-anchor="middle" dominant-baseline="central">10</text>
<text x="817.12" y="476.4" transform="rotate(90 817.12 476.4)" font-size="7" fill="#b4c7e4" text-anchor="middle" dominant-baseline="central">9</text>
<text x="829.41" y="476.4" transform="rotate(90 829.41 476.4)" font-size="7" fill="#b4c7e4" text-anchor="middle" dominant-baseline="central">8</text>
<text x="841.70" y="476.4" transform="rotate(90 841.70 476.4)" font-size="7" fill="#b4c7e4" text-anchor="middle" dominant-baseline="central">7</text>
<text x="853.99" y="476.4" transform="rotate(90 853.99 476.4)" font-size="7" fill="#b4c7e4" text-anchor="middle" dominant-baseline="central">6</text>
<text x="866.28" y="476.4" transform="rotate(90 866.28 476.4)" font-size="7" fill="#b4c7e4" text-anchor="middle" dominant-baseline="central">5</text>
<text x="878.57" y="476.4" transform="rotate(90 878.57 476.4)" font-size="7" fill="#b4c7e4" text-anchor="middle" dominant-baseline="central">4</text>
<text x="890.86" y="476.4" transform="rotate(90 890.86 476.4)" font-size="7" fill="#b4c7e4" text-anchor="middle" dominant-baseline="central">3</text>
<text x="903.15" y="476.4" transform="rotate(90 903.15 476.4)" font-size="7" fill="#b4c7e4" text-anchor="middle" dominant-baseline="central">2</text>
<text x="915.44" y="476.4" transform="rotate(90 915.44 476.4)" font-size="7" fill="#b4c7e4" text-anchor="middle" dominant-baseline="central">1</text>
<text x="595.90" y="627.3" transform="rotate(90 595.90 627.3)" font-size="7" fill="#b4c7e4" text-anchor="middle" dominant-baseline="central">27</text>
<text x="608.19" y="627.3" transform="rotate(90 608.19 627.3)" font-size="7" fill="#b4c7e4" text-anchor="middle" dominant-baseline="central">26</text>
<text x="620.48" y="627.3" transform="rotate(90 620.48 627.3)" font-size="7" fill="#b4c7e4" text-anchor="middle" dominant-baseline="central">25</text>
<text x="632.77" y="627.3" transform="rotate(90 632.77 627.3)" font-size="7" fill="#b4c7e4" text-anchor="middle" dominant-baseline="central">24</text>
<text x="645.06" y="627.3" transform="rotate(90 645.06 627.3)" font-size="7" fill="#b4c7e4" text-anchor="middle" dominant-baseline="central">23</text>
<text x="657.35" y="627.3" transform="rotate(90 657.35 627.3)" font-size="7" fill="#b4c7e4" text-anchor="middle" dominant-baseline="central">22</text>
<text x="669.64" y="627.3" transform="rotate(90 669.64 627.3)" font-size="7" fill="#b4c7e4" text-anchor="middle" dominant-baseline="central">21</text>
<text x="681.93" y="627.3" transform="rotate(90 681.93 627.3)" font-size="7" fill="#b4c7e4" text-anchor="middle" dominant-baseline="central">20</text>
<text x="694.22" y="627.3" transform="rotate(90 694.22 627.3)" font-size="7" fill="#b4c7e4" text-anchor="middle" dominant-baseline="central">19</text>
<text x="706.51" y="627.3" transform="rotate(90 706.51 627.3)" font-size="7" fill="#b4c7e4" text-anchor="middle" dominant-baseline="central">18</text>
<text x="718.80" y="627.3" transform="rotate(90 718.80 627.3)" font-size="7" fill="#b4c7e4" text-anchor="middle" dominant-baseline="central">17</text>
<text x="731.09" y="627.3" transform="rotate(90 731.09 627.3)" font-size="7" fill="#b4c7e4" text-anchor="middle" dominant-baseline="central">16</text>
<text x="743.38" y="627.3" transform="rotate(90 743.38 627.3)" font-size="7" fill="#b4c7e4" text-anchor="middle" dominant-baseline="central">15</text>
<text x="755.67" y="627.3" transform="rotate(90 755.67 627.3)" font-size="7" fill="#b4c7e4" text-anchor="middle" dominant-baseline="central">14</text>
<text x="767.96" y="627.3" transform="rotate(90 767.96 627.3)" font-size="7" fill="#b4c7e4" text-anchor="middle" dominant-baseline="central">13</text>
<text x="780.25" y="627.3" transform="rotate(90 780.25 627.3)" font-size="7" fill="#b4c7e4" text-anchor="middle" dominant-baseline="central">12</text>
<text x="792.54" y="627.3" transform="rotate(90 792.54 627.3)" font-size="7" fill="#b4c7e4" text-anchor="middle" dominant-baseline="central">11</text>
<text x="804.83" y="627.3" transform="rotate(90 804.83 627.3)" font-size="7" fill="#b4c7e4" text-anchor="middle" dominant-baseline="central">10</text>
<text x="817.12" y="627.3" transform="rotate(90 817.12 627.3)" font-size="7" fill="#b4c7e4" text-anchor="middle" dominant-baseline="central">9</text>
<text x="829.41" y="627.3" transform="rotate(90 829.41 627.3)" font-size="7" fill="#b4c7e4" text-anchor="middle" dominant-baseline="central">8</text>
<text x="841.70" y="627.3" transform="rotate(90 841.70 627.3)" font-size="7" fill="#b4c7e4" text-anchor="middle" dominant-baseline="central">7</text>
<text x="853.99" y="627.3" transform="rotate(90 853.99 627.3)" font-size="7" fill="#b4c7e4" text-anchor="middle" dominant-baseline="central">6</text>
<text x="866.28" y="627.3" transform="rotate(90 866.28 627.3)" font-size="7" fill="#b4c7e4" text-anchor="middle" dominant-baseline="central">5</text>
<text x="878.57" y="627.3" transform="rotate(90 878.57 627.3)" font-size="7" fill="#b4c7e4" text-anchor="middle" dominant-baseline="central">4</text>
<text x="890.86" y="627.3" transform="rotate(90 890.86 627.3)" font-size="7" fill="#b4c7e4" text-anchor="middle" dominant-baseline="central">3</text>
<text x="903.15" y="627.3" transform="rotate(90 903.15 627.3)" font-size="7" fill="#b4c7e4" text-anchor="middle" dominant-baseline="central">2</text>
<text x="915.44" y="627.3" transform="rotate(90 915.44 627.3)" font-size="7" fill="#b4c7e4" text-anchor="middle" dominant-baseline="central">1</text>
<line x1="592" y1="482.8" x2="917" y2="482.8" stroke="#dfeaf7" stroke-width="1"/>
<line x1="592" y1="622.2" x2="917" y2="622.2" stroke="#dfeaf7" stroke-width="1"/>
<text x="582.4" y="486.5" transform="rotate(90 582.4 486.5)" font-size="10" fill="#9cb1d6" text-anchor="middle" dominant-baseline="central">a</text>
<text x="928.6" y="486.5" transform="rotate(90 928.6 486.5)" font-size="10" fill="#9cb1d6" text-anchor="middle" dominant-baseline="central">a</text>
<text x="582.4" y="498.7" transform="rotate(90 582.4 498.7)" font-size="10" fill="#9cb1d6" text-anchor="middle" dominant-baseline="central">b</text>
<text x="928.6" y="498.7" transform="rotate(90 928.6 498.7)" font-size="10" fill="#9cb1d6" text-anchor="middle" dominant-baseline="central">b</text>
<text x="582.4" y="510.9" transform="rotate(90 582.4 510.9)" font-size="10" fill="#9cb1d6" text-anchor="middle" dominant-baseline="central">c</text>
<text x="928.6" y="510.9" transform="rotate(90 928.6 510.9)" font-size="10" fill="#9cb1d6" text-anchor="middle" dominant-baseline="central">c</text>
<text x="582.4" y="523.1" transform="rotate(90 582.4 523.1)" font-size="10" fill="#9cb1d6" text-anchor="middle" dominant-baseline="central">d</text>
<text x="928.6" y="523.1" transform="rotate(90 928.6 523.1)" font-size="10" fill="#9cb1d6" text-anchor="middle" dominant-baseline="central">d</text>
<text x="582.4" y="535.3" transform="rotate(90 582.4 535.3)" font-size="10" fill="#9cb1d6" text-anchor="middle" dominant-baseline="central">e</text>
<text x="928.6" y="535.3" transform="rotate(90 928.6 535.3)" font-size="10" fill="#9cb1d6" text-anchor="middle" dominant-baseline="central">e</text>
<text x="582.4" y="568.1" transform="rotate(90 582.4 568.1)" font-size="10" fill="#9cb1d6" text-anchor="middle" dominant-baseline="central">f</text>
<text x="928.6" y="568.1" transform="rotate(90 928.6 568.1)" font-size="10" fill="#9cb1d6" text-anchor="middle" dominant-baseline="central">f</text>
<text x="582.4" y="580.28" transform="rotate(90 582.4 580.28)" font-size="10" fill="#9cb1d6" text-anchor="middle" dominant-baseline="central">g</text>
<text x="928.6" y="580.28" transform="rotate(90 928.6 580.28)" font-size="10" fill="#9cb1d6" text-anchor="middle" dominant-baseline="central">g</text>
<text x="582.4" y="592.46" transform="rotate(90 582.4 592.46)" font-size="10" fill="#9cb1d6" text-anchor="middle" dominant-baseline="central">h</text>
<text x="928.6" y="592.46" transform="rotate(90 928.6 592.46)" font-size="10" fill="#9cb1d6" text-anchor="middle" dominant-baseline="central">h</text>
<text x="582.4" y="604.64" transform="rotate(90 582.4 604.64)" font-size="10" fill="#9cb1d6" text-anchor="middle" dominant-baseline="central">i</text>
<text x="928.6" y="604.64" transform="rotate(90 928.6 604.64)" font-size="10" fill="#9cb1d6" text-anchor="middle" dominant-baseline="central">i</text>
<text x="582.4" y="616.82" transform="rotate(90 582.4 616.82)" font-size="10" fill="#9cb1d6" text-anchor="middle" dominant-baseline="central">j</text>
<text x="928.6" y="616.82" transform="rotate(90 928.6 616.82)" font-size="10" fill="#9cb1d6" text-anchor="middle" dominant-baseline="central">j</text>
<line x1="583.9" y1="444.6" x2="589.1" y2="444.6" stroke="#3f52a6" stroke-width="1.9"/>
<line x1="582.3000000000001" y1="453.5" x2="588.9" y2="453.5" stroke="#3f52a6" stroke-width="1.9"/>
<line x1="585.6" y1="450.2" x2="585.6" y2="456.8" stroke="#3f52a6" stroke-width="1.9"/>
<line x1="582.2" y1="645.2" x2="588.8" y2="645.2" stroke="#3f52a6" stroke-width="1.9"/>
<line x1="585.5" y1="641.9000000000001" x2="585.5" y2="648.5" stroke="#3f52a6" stroke-width="1.9"/>
<line x1="582.9" y1="659.6" x2="588.1" y2="659.6" stroke="#3f52a6" stroke-width="1.9"/>
<line x1="582.5" y1="649.5" x2="582.5" y2="657" stroke="#b8c8e4" stroke-width="1"/>
<line x1="920.6" y1="652.2" x2="928.6" y2="652.2" stroke="#b8c8e4" stroke-width="1.2"/>
<line x1="924.6" y1="648.2" x2="924.6" y2="656.2" stroke="#b8c8e4" stroke-width="1.2"/>
<rect x="303" y="72.5" width="169.5" height="322.8" rx="13" ry="13" fill="none" stroke="#6a86d6" stroke-width="1.6"/>
<path d="M344,72.5 V147.5 Q344,158.5 355,158.5 H419.6 Q430.6,158.5 430.6,147.5 V72.5" fill="none" stroke="#5a70b8" stroke-width="1.6"/>
<path d="M360.6,395.3 V367 H412.8 V395.3" fill="none" stroke="#5a70b8" stroke-width="1.6"/>
<circle cx="315.9" cy="101.30" r="6.2" fill="none" stroke="#5e6ea0" stroke-width="1.5"/>
<circle cx="456.9" cy="101.30" r="6.2" fill="none" stroke="#5e6ea0" stroke-width="1.5"/>
<circle cx="315.9" cy="121.45" r="6.2" fill="none" stroke="#5e6ea0" stroke-width="1.5"/>
<circle cx="456.9" cy="121.45" r="6.2" fill="none" stroke="#5e6ea0" stroke-width="1.5"/>
<circle cx="315.9" cy="141.60" r="6.2" fill="none" stroke="#5e6ea0" stroke-width="1.5"/>
<circle cx="456.9" cy="141.60" r="6.2" fill="none" stroke="#5e6ea0" stroke-width="1.5"/>
<circle cx="315.9" cy="161.75" r="6.2" fill="none" stroke="#5e6ea0" stroke-width="1.5"/>
<circle cx="456.9" cy="161.75" r="6.2" fill="none" stroke="#5e6ea0" stroke-width="1.5"/>
<circle cx="315.9" cy="181.90" r="6.2" fill="none" stroke="#5e6ea0" stroke-width="1.5"/>
<circle cx="456.9" cy="181.90" r="6.2" fill="none" stroke="#5e6ea0" stroke-width="1.5"/>
<circle cx="315.9" cy="202.05" r="6.2" fill="none" stroke="#5e6ea0" stroke-width="1.5"/>
<circle cx="456.9" cy="202.05" r="6.2" fill="none" stroke="#5e6ea0" stroke-width="1.5"/>
<circle cx="315.9" cy="222.20" r="6.2" fill="none" stroke="#5e6ea0" stroke-width="1.5"/>
<circle cx="456.9" cy="222.20" r="6.2" fill="none" stroke="#5e6ea0" stroke-width="1.5"/>
<circle cx="315.9" cy="242.35" r="6.2" fill="none" stroke="#5e6ea0" stroke-width="1.5"/>
<circle cx="456.9" cy="242.35" r="6.2" fill="none" stroke="#5e6ea0" stroke-width="1.5"/>
<circle cx="315.9" cy="262.50" r="6.2" fill="none" stroke="#5e6ea0" stroke-width="1.5"/>
<circle cx="456.9" cy="262.50" r="6.2" fill="none" stroke="#5e6ea0" stroke-width="1.5"/>
<circle cx="315.9" cy="282.65" r="6.2" fill="none" stroke="#5e6ea0" stroke-width="1.5"/>
<circle cx="456.9" cy="282.65" r="6.2" fill="none" stroke="#5e6ea0" stroke-width="1.5"/>
<circle cx="315.9" cy="302.80" r="6.2" fill="none" stroke="#5e6ea0" stroke-width="1.5"/>
<circle cx="456.9" cy="302.80" r="6.2" fill="none" stroke="#5e6ea0" stroke-width="1.5"/>
<circle cx="315.9" cy="322.95" r="6.2" fill="none" stroke="#5e6ea0" stroke-width="1.5"/>
<circle cx="456.9" cy="322.95" r="6.2" fill="none" stroke="#5e6ea0" stroke-width="1.5"/>
<circle cx="315.9" cy="343.10" r="6.2" fill="none" stroke="#5e6ea0" stroke-width="1.5"/>
<circle cx="456.9" cy="343.10" r="6.2" fill="none" stroke="#5e6ea0" stroke-width="1.5"/>
<circle cx="315.9" cy="363.25" r="6.2" fill="none" stroke="#5e6ea0" stroke-width="1.5"/>
<circle cx="456.9" cy="363.25" r="6.2" fill="none" stroke="#5e6ea0" stroke-width="1.5"/>
<circle cx="315.9" cy="383.40" r="6.2" fill="none" stroke="#5e6ea0" stroke-width="1.5"/>
<circle cx="456.9" cy="383.40" r="6.2" fill="none" stroke="#5e6ea0" stroke-width="1.5"/>
<path d="M158,66.8 L237.5,66.8 L237.5,160.6 L309.7,160.6" fill="none" stroke="#4f6cb8" stroke-width="1.4" stroke-linejoin="miter"/>
<path d="M138.5,205 L309.7,205" fill="none" stroke="#4f6cb8" stroke-width="1.4" stroke-linejoin="miter"/>
<path d="M138.5,222.2 L309.7,222.2" fill="none" stroke="#4f6cb8" stroke-width="1.4" stroke-linejoin="miter"/>
<path d="M138.5,242.4 L309.7,242.4" fill="none" stroke="#4f6cb8" stroke-width="1.4" stroke-linejoin="miter"/>
<path d="M157.3,340.6 L280.2,340.6 L280.2,282.7 L309.7,282.7" fill="none" stroke="#4f6cb8" stroke-width="1.4" stroke-linejoin="miter"/>
<path d="M124.4,428.5 L290.6,428.5 L290.6,302.8 L309.7,302.8" fill="none" stroke="#4f6cb8" stroke-width="1.4" stroke-linejoin="miter"/>
<path d="M463.09999999999997,121.5 L662.3,121.5" fill="none" stroke="#4f6cb8" stroke-width="1.4" stroke-linejoin="miter"/>
<path d="M463.09999999999997,182 L609.8,182 L609.8,127.9 L662.3,127.9" fill="none" stroke="#4f6cb8" stroke-width="1.4" stroke-linejoin="miter"/>
<path d="M463.09999999999997,223 L662.1,223" fill="none" stroke="#4f6cb8" stroke-width="1.4" stroke-linejoin="miter"/>
<path d="M463.09999999999997,302.9 L662.1,302.9" fill="none" stroke="#4f6cb8" stroke-width="1.4" stroke-linejoin="miter"/>
<path d="M196.4,594.5 L387.7,594.5 L387.7,395.3" fill="none" stroke="#3866d2" stroke-width="2.8" stroke-linejoin="miter"/>
<path d="M157,73.7 L179.8,73.7 L179.8,486.5 L681,486.5 L681,457" fill="none" stroke="#d9524c" stroke-width="1.5" stroke-linejoin="miter"/>
<path d="M156.9,80.6 L168.9,80.6 L168.9,499.8 L691.9,499.8 L691.9,446.3" fill="none" stroke="#2a2a2a" stroke-width="1.8" stroke-linejoin="miter"/>
<path d="M138.5,257.3 L179.8,257.3" fill="none" stroke="#d9524c" stroke-width="1.4" stroke-linejoin="miter"/>
<path d="M138.5,268.5 L168.9,268.5" fill="none" stroke="#2a2a2a" stroke-width="1.8" stroke-linejoin="miter"/>
<path d="M157.3,349.1 L179.8,349.1" fill="none" stroke="#d9524c" stroke-width="1.4" stroke-linejoin="miter"/>
<path d="M157.3,358.4 L168.9,358.4" fill="none" stroke="#2a2a2a" stroke-width="1.8" stroke-linejoin="miter"/>
<path d="M124.4,442.8 L179.8,442.8" fill="none" stroke="#d9524c" stroke-width="1.4" stroke-linejoin="miter"/>
<path d="M124.4,451.6 L168.9,451.6" fill="none" stroke="#2a2a2a" stroke-width="1.8" stroke-linejoin="miter"/>
<path d="M662.3,133.1 L639.1,133.1 L639.1,457" fill="none" stroke="#d9524c" stroke-width="1.4" stroke-linejoin="miter"/>
<path d="M662.3,140.6 L650.4,140.6 L650.4,446.3" fill="none" stroke="#2a2a2a" stroke-width="1.8" stroke-linejoin="miter"/>
<path d="M662.1,232.3 L639.1,232.3" fill="none" stroke="#d9524c" stroke-width="1.4" stroke-linejoin="miter"/>
<path d="M662.1,239.4 L650.4,239.4" fill="none" stroke="#2a2a2a" stroke-width="1.8" stroke-linejoin="miter"/>
<path d="M662.1,309.4 L639.1,309.4" fill="none" stroke="#d9524c" stroke-width="1.4" stroke-linejoin="miter"/>
<path d="M662.1,316.5 L650.4,316.5" fill="none" stroke="#2a2a2a" stroke-width="1.8" stroke-linejoin="miter"/>
<path d="M463.09999999999997,363.7 L616.8,363.7 L616.8,446.3" fill="none" stroke="#2a2a2a" stroke-width="1.8" stroke-linejoin="miter"/>
<path d="M463.09999999999997,384.7 L605.5,384.7 L605.5,457" fill="none" stroke="#d9524c" stroke-width="1.4" stroke-linejoin="miter"/>
<ellipse cx="126.5" cy="73.1" rx="31.5" ry="28.1" fill="none" stroke="#5a70b8" stroke-width="1.6"/>
<path d="M95,74 L105,74 L109.4,64.5 L116.9,83.7 L124.6,65 L132.5,83.7 L140.4,64.7 L147.9,83.7 L152.2,73.8 L158,73.8" fill="none" stroke="#5a70b8" stroke-width="1.5" stroke-linejoin="miter"/>
<rect x="98.5" y="195.6" width="40" height="79.2" fill="#fff" stroke="#5a70b8" stroke-width="1.5"/>
<path d="M138.5,198.20000000000002 L128.8,204.3 L138.5,210.4 Z" fill="#e0232b" stroke="#5a70b8" stroke-width="1.2" stroke-linejoin="round"/>
<line x1="128.8" y1="200.10000000000002" x2="128.8" y2="208.5" stroke="#5a70b8" stroke-width="1.4"/>
<path d="M138.5,216.1 L128.8,222.2 L138.5,228.29999999999998 Z" fill="#7fd27a" stroke="#5a70b8" stroke-width="1.2" stroke-linejoin="round"/>
<line x1="128.8" y1="218.0" x2="128.8" y2="226.39999999999998" stroke="#5a70b8" stroke-width="1.4"/>
<path d="M138.5,236.4 L128.8,242.5 L138.5,248.6 Z" fill="#62d6f2" stroke="#5a70b8" stroke-width="1.2" stroke-linejoin="round"/>
<line x1="128.8" y1="238.3" x2="128.8" y2="246.7" stroke="#5a70b8" stroke-width="1.4"/>
<rect x="95.3" y="329.7" width="62" height="33.4" fill="none" stroke="#5a70b8" stroke-width="1.5"/>
<circle cx="125.85" cy="346.1" r="2.2" fill="none" stroke="#5e6ea0" stroke-width="1.5"/>
<path d="M121.92,340.80 A6.6,6.6 0 0 0 121.92,351.40" fill="none" stroke="#5e6ea0" stroke-width="1.8" stroke-linecap="round"/>
<path d="M129.78,340.80 A6.6,6.6 0 0 1 129.78,351.40" fill="none" stroke="#5e6ea0" stroke-width="1.8" stroke-linecap="round"/>
<path d="M117.84,336.90 A12.2,12.2 0 0 0 117.84,355.30" fill="none" stroke="#5e6ea0" stroke-width="1.8" stroke-linecap="round"/>
<path d="M133.86,336.90 A12.2,12.2 0 0 1 133.86,355.30" fill="none" stroke="#5e6ea0" stroke-width="1.8" stroke-linecap="round"/>
<path d="M113.48,333.30 A17.8,17.8 0 0 0 113.48,358.90" fill="none" stroke="#5e6ea0" stroke-width="1.8" stroke-linecap="round"/>
<path d="M138.22,333.30 A17.8,17.8 0 0 1 138.22,358.90" fill="none" stroke="#5e6ea0" stroke-width="1.8" stroke-linecap="round"/>
<rect x="95.6" y="420.4" width="28.8" height="36.9" fill="none" stroke="#5a70b8" stroke-width="1.5"/>
<path d="M124.4,426.7 L113.8,432.2 L124.4,437.7 Z" fill="#f2c21b" stroke="#5a70b8" stroke-width="1.2" stroke-linejoin="round"/>
<line x1="113.8" y1="428.0" x2="113.8" y2="436.4" stroke="#5a70b8" stroke-width="1.4"/>
<rect x="80.3" y="562.8" width="116.1" height="63" rx="12.5" ry="12.5" fill="none" stroke="#5a70b8" stroke-width="1.6"/>
<rect x="662.3" y="110.5" width="62.1" height="34.1" fill="none" stroke="#5a70b8" stroke-width="1.6"/>
<rect x="665.9" y="113.8" width="55" height="27.4" fill="none" stroke="#5a70b8" stroke-width="1.5"/>
<rect x="662.1" y="213.4" width="62.5" height="34.1" fill="none" stroke="#5a70b8" stroke-width="1.5"/>
<path d="M-1.9,-0.8 L-1.9,-14.2 A5.6,6.7 0 0 0 -1.9,-0.8 Z" transform="translate(693,229.8) rotate(45)" fill="#2e64dc" stroke="#2e64dc" stroke-width="0.6" stroke-linejoin="round"/>
<path d="M-1.9,-0.8 L-1.9,-14.2 A5.6,6.7 0 0 0 -1.9,-0.8 Z" transform="translate(693,229.8) rotate(135)" fill="#2e64dc" stroke="#2e64dc" stroke-width="0.6" stroke-linejoin="round"/>
<path d="M-1.9,-0.8 L-1.9,-14.2 A5.6,6.7 0 0 0 -1.9,-0.8 Z" transform="translate(693,229.8) rotate(225)" fill="#2e64dc" stroke="#2e64dc" stroke-width="0.6" stroke-linejoin="round"/>
<path d="M-1.9,-0.8 L-1.9,-14.2 A5.6,6.7 0 0 0 -1.9,-0.8 Z" transform="translate(693,229.8) rotate(315)" fill="#2e64dc" stroke="#2e64dc" stroke-width="0.6" stroke-linejoin="round"/>
<rect x="662.1" y="286.3" width="62.5" height="33.3" fill="none" stroke="#5a70b8" stroke-width="1.5"/>
<circle cx="605.5" cy="457.1" r="4.4" fill="#f4150f"/>
<circle cx="639.1" cy="457.1" r="4.4" fill="#f4150f"/>
<circle cx="681" cy="457.1" r="4.4" fill="#f4150f"/>
<circle cx="616.8" cy="446.4" r="4.6" fill="#111"/>
<circle cx="650.4" cy="446.4" r="4.6" fill="#111"/>
<circle cx="691.9" cy="446.4" r="4.6" fill="#111"/>
<text transform="translate(64.04,33.85) scale(1.021,1)" font-size="14.86" fill="#3e67cb" stroke="#3e67cb" stroke-width="0.7" stroke-linejoin="round">PHOTORESISTOR</text>
<text transform="translate(102.80,167.25) scale(0.971,1)" font-size="14.86" fill="#3e67cb" stroke="#3e67cb" stroke-width="0.7" stroke-linejoin="round">RGB</text>
<text transform="translate(104.28,187.35) scale(0.964,1)" font-size="15.22" fill="#3e67cb" stroke="#3e67cb" stroke-width="0.7" stroke-linejoin="round">LED</text>
<text transform="translate(112.74,304.15) scale(1.016,1)" font-size="14.93" fill="#3e67cb" stroke="#3e67cb" stroke-width="0.7" stroke-linejoin="round">PIR</text>
<text transform="translate(94.21,324.30) scale(1.006,1)" font-size="14.79" fill="#3e67cb" stroke="#3e67cb" stroke-width="0.7" stroke-linejoin="round">SENSOR</text>
<text transform="translate(89.05,393.15) scale(1.041,1)" font-size="15.65" fill="#3e67cb" stroke="#3e67cb" stroke-width="0.7" stroke-linejoin="round">LED-5MM</text>
<text transform="translate(94.37,413.25) scale(0.968,1)" font-size="15.29" fill="#3e67cb" stroke="#3e67cb" stroke-width="0.7" stroke-linejoin="round">DIFFUSE</text>
<text transform="translate(72.26,548.65) scale(1.005,1)" font-size="14.86" fill="#3e67cb" stroke="#3e67cb" stroke-width="0.7" stroke-linejoin="round">POWER SOURCE</text>
<text transform="translate(361.10,258.55) scale(1.003,1)" font-size="15.57" fill="#3e67cb" stroke="#3e67cb" stroke-width="0.7" stroke-linejoin="round">ESP 32</text>
<text transform="translate(672.81,100.15) scale(0.985,1)" font-size="15.07" fill="#3e67cb" stroke="#3e67cb" stroke-width="0.7" stroke-linejoin="round">OLED</text>
<text transform="translate(677.30,202.05) scale(1.017,1)" font-size="15.36" fill="#3e67cb" stroke="#3e67cb" stroke-width="0.7" stroke-linejoin="round">FAN</text>
<text transform="translate(665.95,279.15) scale(1.075,1)" font-size="15.14" fill="#3e67cb" stroke="#3e67cb" stroke-width="0.7" stroke-linejoin="round">KY-015</text>
<text transform="translate(671.23,307.15) scale(1.085,1)" font-size="14.78" fill="#3e67cb" stroke="#3e67cb" stroke-width="0.7" stroke-linejoin="round">TEMP</text>
<text transform="translate(476.27,355.95) scale(1.095,1)" font-size="14.29" fill="#3e67cb" stroke="#3e67cb" stroke-width="0.7" stroke-linejoin="round">COMMON GND</text>
<text transform="translate(513.22,402.02) scale(1.072,1)" font-size="15.21" fill="#3e67cb" stroke="#3e67cb" stroke-width="0.75" stroke-linejoin="round">3.3 V</text>
<text transform="translate(327.78,164.53) scale(0.988,1)" font-size="12.50" fill="#4661ac" stroke="#4661ac" stroke-width="0.75" stroke-linejoin="round">34</text>
<text transform="translate(328.17,205.53) scale(0.974,1)" font-size="12.93" fill="#4661ac" stroke="#4661ac" stroke-width="0.75" stroke-linejoin="round">32</text>
<text transform="translate(328.19,224.72) scale(1.013,1)" font-size="11.93" fill="#4661ac" stroke="#4661ac" stroke-width="0.75" stroke-linejoin="round">33</text>
<text transform="translate(328.05,244.72) scale(0.970,1)" font-size="12.79" fill="#4661ac" stroke="#4661ac" stroke-width="0.75" stroke-linejoin="round">25</text>
<text transform="translate(327.62,286.42) scale(1.015,1)" font-size="12.93" fill="#4661ac" stroke="#4661ac" stroke-width="0.75" stroke-linejoin="round">27</text>
<text transform="translate(327.81,305.92) scale(1.022,1)" font-size="12.97" fill="#4661ac" stroke="#4661ac" stroke-width="0.75" stroke-linejoin="round">14</text>
<text transform="translate(433.20,123.23) scale(1.073,1)" font-size="12.50" fill="#4661ac" stroke="#4661ac" stroke-width="0.75" stroke-linejoin="round">22</text>
<text transform="translate(433.25,184.62) scale(1.014,1)" font-size="12.36" fill="#4661ac" stroke="#4661ac" stroke-width="0.75" stroke-linejoin="round">21</text>
<text transform="translate(433.89,224.83) scale(1.061,1)" font-size="11.57" fill="#4661ac" stroke="#4661ac" stroke-width="0.75" stroke-linejoin="round">18</text>
<text transform="translate(437.77,305.12) scale(0.925,1)" font-size="11.23" fill="#4661ac" stroke="#4661ac" stroke-width="0.75" stroke-linejoin="round">4</text>
</svg>
</body></html>
